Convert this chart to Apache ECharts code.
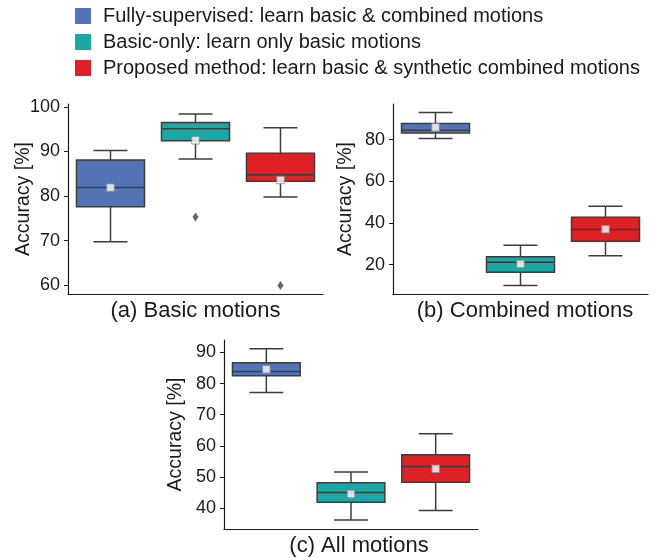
<!DOCTYPE html>
<html>
<head>
<meta charset="utf-8">
<script src="https://cdn.jsdelivr.net/npm/echarts@6/dist/echarts.min.js"></script>
<style>html,body{margin:0;padding:0;background:#fff;}#c{width:657px;height:558px;}</style>
</head>
<body>
<div id="c"></div>
<script>
// ---- data ----
const methods = [
  'Fully-supervised: learn basic & combined motions',
  'Basic-only: learn only basic motions',
  'Proposed method: learn basic & synthetic combined motions'
];
const panelTitles = ['(a) Basic motions', '(b) Combined motions', '(c) All motions'];
// [min, Q1, median, Q3, max] per method
const basicStats = [[69.8, 77.6, 81.9, 88.1, 90.2], [88.3, 92.4, 95.1, 96.5, 98.4], [79.8, 83.3, 84.8, 89.6, 95.3]];
const combinedStats = [[80.6, 83.2, 84.5, 87.8, 93.1], [9.9, 16.3, 21.1, 23.8, 29.3], [24.2, 31.2, 36.8, 42.7, 48.0]];
const allStats = [[77.1, 82.5, 83.9, 86.7, 91.2], [36.1, 41.8, 45.0, 48.1, 51.6], [39.2, 48.3, 53.3, 57.1, 63.9]];
const basicMeans = [81.9, 92.5, 83.6];
const combinedMeans = [85.9, 20.3, 37.0];
const allMeans = [84.6, 44.5, 52.6];
// outliers: [methodIndex, value]
const basicOutliers = [[1, 75.3], [2, 60.0]];
const combinedOutliers = [];
const allOutliers = [];
const basicTicks = [60, 70, 80, 90, 100];
const combinedTicks = [20, 40, 60, 80];
const allTicks = [40, 50, 60, 70, 80, 90];
const yRanges = [[58.07, 100.63], [5.85, 97.15], [33.24, 94.0]];

const colors = ['#5274b6', '#19a8a5', '#df2125'];
const edge = '#3d3d3d';
const FONT = '"Liberation Sans", Arial, sans-serif';

const panels = [
  {stats: basicStats, means: basicMeans, outliers: basicOutliers, ticks: basicTicks},
  {stats: combinedStats, means: combinedMeans, outliers: combinedOutliers, ticks: combinedTicks},
  {stats: allStats, means: allMeans, outliers: allOutliers, ticks: allTicks}
];

const grids = [
  {left: 68, top: 104, width: 255, height: 190},
  {left: 393, top: 104, width: 255, height: 190},
  {left: 224, top: 340, width: 254, height: 190}
];
const nameGaps = [34, 37.5, 38.5];
const titlePad = [[0, 0, 0, 0], [0, 0, 0, 9], [0, 0, 0, 16]];

function renderBox(params, api) {
  const x = api.value(0);
  const lo = api.coord([x, api.value(1)]);
  const q1 = api.coord([x, api.value(2)]);
  const md = api.coord([x, api.value(3)]);
  const q3 = api.coord([x, api.value(4)]);
  const hi = api.coord([x, api.value(5)]);
  const band = api.size([1, 0])[0];
  const hw = band * 0.4, cw = band * 0.2, cx = md[0];
  const st = {stroke: edge, lineWidth: 1.5};
  return {type: 'group', children: [
    {type: 'line', shape: {x1: cx, y1: hi[1], x2: cx, y2: q3[1]}, style: st},
    {type: 'line', shape: {x1: cx, y1: q1[1], x2: cx, y2: lo[1]}, style: st},
    {type: 'line', shape: {x1: cx - cw, y1: hi[1], x2: cx + cw, y2: hi[1]}, style: st},
    {type: 'line', shape: {x1: cx - cw, y1: lo[1], x2: cx + cw, y2: lo[1]}, style: st},
    {type: 'rect', shape: {x: cx - hw, y: q3[1], width: 2 * hw, height: q1[1] - q3[1]},
      style: {fill: api.visual('color'), stroke: edge, lineWidth: 1.5}},
    {type: 'line', shape: {x1: cx - hw, y1: md[1], x2: cx + hw, y2: md[1]}, style: st}
  ]};
}

const xAxes = [], yAxes = [], series = [];
panels.forEach((p, i) => {
  xAxes.push({
    type: 'category', gridIndex: i, data: methods,
    axisLabel: {show: false}, axisTick: {show: false},
    axisLine: {lineStyle: {color: '#1a1a1a', width: 1.2}},
    name: panelTitles[i], nameLocation: 'middle', nameGap: 6,
    nameTextStyle: {fontFamily: FONT, fontSize: 22, color: '#1a1a1a', padding: titlePad[i], verticalAlign: 'top'}
  });
  yAxes.push({
    type: 'value', gridIndex: i, min: yRanges[i][0], max: yRanges[i][1],
    splitLine: {show: false},
    axisLine: {show: true, lineStyle: {color: '#1a1a1a', width: 1.2}},
    axisTick: {show: true, length: 4, customValues: p.ticks, lineStyle: {color: '#1a1a1a'}},
    axisLabel: {customValues: p.ticks, margin: 8, fontFamily: FONT, fontSize: 18, color: '#1a1a1a'},
    name: 'Accuracy [%]', nameLocation: 'middle', nameRotate: 90, nameGap: nameGaps[i],
    nameMoveOverlap: false,
    nameTextStyle: {fontFamily: FONT, fontSize: 19.5, color: '#1a1a1a'}
  });
  p.stats.forEach((s, m) => {
    series.push({
      type: 'custom', name: methods[m], xAxisIndex: i, yAxisIndex: i,
      itemStyle: {color: colors[m]},
      renderItem: renderBox,
      encode: {x: 0, y: [1, 2, 3, 4, 5]},
      data: [[m].concat(s)], z: 2
    });
  });
  series.push({
    type: 'scatter', name: 'mean' + i, xAxisIndex: i, yAxisIndex: i,
    symbol: 'rect', symbolSize: 7.5,
    itemStyle: {color: '#ffffff', borderColor: '#8a8a8a', borderWidth: 1},
    data: p.means.map((v, m) => [m, v]), z: 5
  });
  series.push({
    type: 'scatter', name: 'outlier' + i, xAxisIndex: i, yAxisIndex: i,
    symbol: 'diamond', symbolSize: [6, 9],
    itemStyle: {color: edge},
    data: p.outliers, z: 5
  });
});

const chart = echarts.init(document.getElementById('c'), null, {renderer: 'canvas'});
chart.setOption({
  animation: false,
  legend: {
    data: methods, orient: 'vertical', left: 75, top: 6, padding: 0,
    icon: 'rect', itemWidth: 16, itemHeight: 16, itemGap: 6,
    textStyle: {fontFamily: FONT, fontSize: 20, lineHeight: 20, color: '#1a1a1a', padding: [0, 0, 0, 7]},
    selectedMode: false
  },
  grid: grids,
  xAxis: xAxes,
  yAxis: yAxes,
  series: series
});
</script>
</body>
</html>
